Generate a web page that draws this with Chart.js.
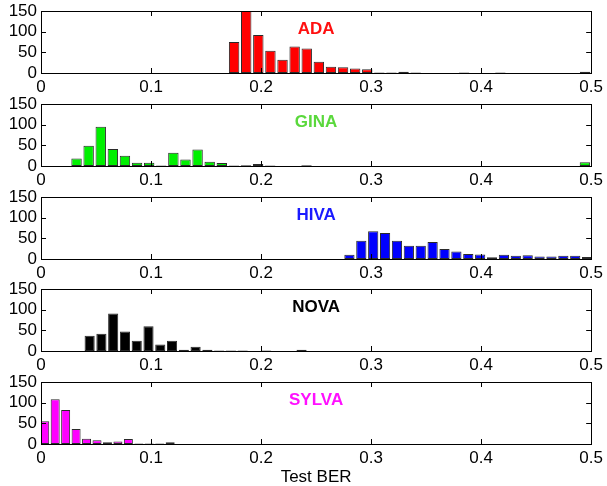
<!DOCTYPE html>
<html>
<head>
<meta charset="utf-8">
<script src="https://cdn.jsdelivr.net/npm/chart.js@4.4.1/dist/chart.umd.min.js"></script>
<style>
body { margin: 0; background: #fff; overflow: hidden; }
#wrap { position: relative; width: 607px; height: 486px; overflow: hidden; }
canvas { position: absolute; left: 0; }
</style>
</head>
<body>
<div id="wrap">
  <canvas id="ada" width="607" height="100" style="top:0px"></canvas>
  <canvas id="gina" width="607" height="100" style="top:93px"></canvas>
  <canvas id="hiva" width="607" height="100" style="top:186px"></canvas>
  <canvas id="nova" width="607" height="100" style="top:278px"></canvas>
  <canvas id="sylva" width="607" height="120" style="top:371px"></canvas>
</div>
<script>
// bin centres (Test BER) and counts
const adaBins = [0.1755, 0.1865, 0.1975, 0.2085, 0.2195, 0.2305, 0.2415, 0.2525, 0.2635, 0.2745,
    0.2855, 0.2965, 0.3075, 0.3185, 0.3295, 0.3405, 0.3515, 0.3625, 0.3735, 0.3845,
    0.3955, 0.4065, 0.4175, 0.4285, 0.4395, 0.4505, 0.4615, 0.4725, 0.4835, 0.4945];
const adaCounts = [75, 150, 92, 54, 32, 64, 59, 27, 15, 14, 11, 9, 1, 1, 3, 1, 0, 0, 0, 1,
    0, 0, 1, 0, 0, 0, 0, 0, 0, 3];

const ginaBins = [0.0323, 0.0433, 0.0543, 0.0653, 0.0763, 0.0873, 0.0983, 0.1093, 0.1203, 0.1313,
    0.1423, 0.1533, 0.1643, 0.1753, 0.1863, 0.1973, 0.2083, 0.2193, 0.2303, 0.2413, 0.4943];
const ginaCounts = [18, 49, 95, 41, 25, 8, 8, 1, 32, 16, 40, 10, 7, 1, 2, 5, 1, 0, 0, 2, 9];

const hivaBins = [0.2803, 0.2911, 0.3019, 0.3127, 0.3235, 0.3343, 0.3451, 0.3559, 0.3667, 0.3775,
    0.3883, 0.3991, 0.4099, 0.4207, 0.4315, 0.4423, 0.4531, 0.4639, 0.4747, 0.4855, 0.4963];
const hivaCounts = [10, 44, 67, 63, 44, 32, 32, 41, 24, 18, 12, 11, 4, 10, 8, 9, 6, 6, 8, 8, 5];

const novaBins = [0.0442, 0.0549, 0.0656, 0.0763, 0.0870, 0.0977, 0.1084, 0.1191, 0.1298, 0.1405,
    0.1512, 0.1619, 0.1726, 0.1833, 0.1940, 0.2047, 0.2154, 0.2261, 0.2368];
const novaCounts = [37, 42, 91, 47, 25, 60, 16, 25, 3, 10, 3, 1, 1, 1, 0, 1, 0, 0, 3];

const sylvaBins = [0.0034, 0.0129, 0.0224, 0.0319, 0.0414, 0.0509, 0.0604, 0.0699, 0.0794, 0.0889,
    0.0984, 0.1079, 0.1174, 0.1269, 0.1364, 0.1459];
const sylvaCounts = [55, 108, 82, 36, 13, 9, 4, 6, 12, 1, 1, 1, 4, 0, 0, 0];

const xTicks = [0, 0.1, 0.2, 0.3, 0.4, 0.5];
const yTicks = [0, 50, 100, 150];

const fontFamily = '"Liberation Sans", Arial, Helvetica, sans-serif';

// box round the plot with inward ticks, like matlab axes
const framePlugin = {
    id: 'frame',
    afterDatasetsDraw(chart) {
        const ctx = chart.ctx;
        const a = chart.chartArea;
        const x = chart.scales.x;
        const y = chart.scales.y;
        ctx.save();
        ctx.strokeStyle = '#000';
        ctx.lineWidth = 1;
        ctx.strokeRect(Math.round(a.left) + 0.5, Math.round(a.top) + 0.5,
            Math.round(a.right - a.left), Math.round(a.bottom - a.top));
        ctx.beginPath();
        x.ticks.forEach(t => {
            const px = Math.round(x.getPixelForValue(t.value)) + 0.5;
            ctx.moveTo(px, a.bottom); ctx.lineTo(px, a.bottom - 5);
            ctx.moveTo(px, a.top); ctx.lineTo(px, a.top + 5);
        });
        y.ticks.forEach(t => {
            const py = Math.round(y.getPixelForValue(t.value)) + 0.5;
            ctx.moveTo(a.left, py); ctx.lineTo(a.left + 5, py);
            ctx.moveTo(a.right, py); ctx.lineTo(a.right - 5, py);
        });
        ctx.stroke();

        const o = chart.options.plugins.frame;
        ctx.fillStyle = o.color;
        ctx.font = 'bold 17px ' + fontFamily;
        ctx.textAlign = 'center';
        ctx.textBaseline = 'middle';
        ctx.fillText(o.text, x.getPixelForValue(0.25), y.getPixelForValue(106));
        ctx.restore();
    }
};

function makePanel(id, bins, counts, barColor, name, nameColor, last) {
    const points = [];
    for (let i = 0; i < bins.length; i++) {
        points.push({ x: bins[i], y: counts[i] });
    }
    const ctx = document.getElementById(id).getContext('2d');
    return new Chart(ctx, {
        type: 'bar',
        data: {
            datasets: [{
                data: points,
                backgroundColor: barColor,
                borderColor: '#2a2a2a',
                borderWidth: 1,
                borderSkipped: false,
                barPercentage: 0.86,
                categoryPercentage: 1
            }]
        },
        options: {
            responsive: false,
            animation: false,
            layout: { padding: { top: 11, right: 13, left: 0, bottom: 0 } },
            plugins: {
                legend: { display: false },
                tooltip: { enabled: false },
                frame: { text: name, color: nameColor }
            },
            scales: {
                x: {
                    type: 'linear',
                    min: 0,
                    max: 0.5,
                    offset: false,
                    grid: { display: false, drawTicks: false, tickLength: 0 },
                    border: { display: false },
                    afterBuildTicks: s => { s.ticks = xTicks.map(v => ({ value: v })); },
                    ticks: {
                        color: '#000',
                        font: { size: 17, family: fontFamily },
                        padding: 4,
                        maxRotation: 0,
                        autoSkip: false,
                        callback: v => String(Math.round(v * 10) / 10)
                    },
                    title: {
                        display: last,
                        text: 'Test BER',
                        color: '#000',
                        font: { size: 17, family: fontFamily },
                        padding: { top: 0, bottom: 3 }
                    },
                    afterFit: s => { s.height = last ? 47 : 27; }
                },
                y: {
                    min: 0,
                    max: 150,
                    grid: { display: false, drawTicks: false, tickLength: 0 },
                    border: { display: false },
                    afterBuildTicks: s => { s.ticks = yTicks.map(v => ({ value: v })); },
                    ticks: {
                        color: '#000',
                        font: { size: 17, family: fontFamily },
                        padding: 4,
                        autoSkip: false
                    },
                    afterFit: s => { s.width = 41; s.paddingTop = 0; s.paddingBottom = 0; }
                }
            }
        },
        plugins: [framePlugin]
    });
}

makePanel('ada', adaBins, adaCounts, '#ff0000', 'ADA', '#ff1010', false);
makePanel('gina', ginaBins, ginaCounts, '#00f000', 'GINA', '#5ad83c', false);
makePanel('hiva', hivaBins, hivaCounts, '#0000ff', 'HIVA', '#1a1aff', false);
makePanel('nova', novaBins, novaCounts, '#000000', 'NOVA', '#000000', false);
makePanel('sylva', sylvaBins, sylvaCounts, '#ff00ff', 'SYLVA', '#ff10ff', true);
</script>
</body>
</html>
